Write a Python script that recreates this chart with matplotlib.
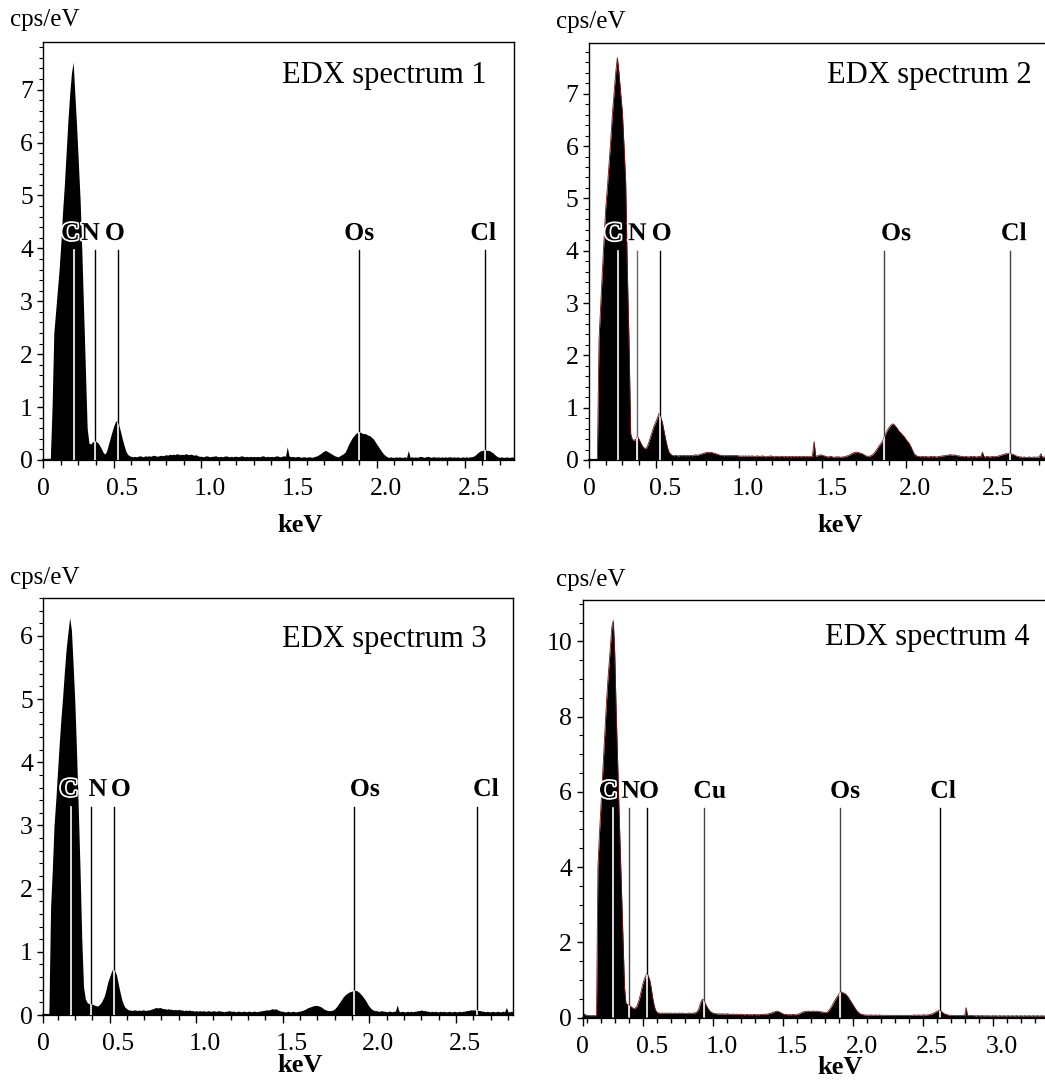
import numpy as np
import matplotlib
matplotlib.use("Agg")
import matplotlib.pyplot as plt
import matplotlib.patheffects as pe
from matplotlib.ticker import MultipleLocator, FixedLocator, FixedFormatter
from matplotlib.transforms import ScaledTranslation

plt.rcParams["font.family"] = ["Liberation Serif", "DejaVu Serif"]

# ---------------------------------------------------------------- data
# Spectra sampled every 10 eV, counts in cps/eV
STEP = 0.01

spec1_start = 0.10
spec1_counts = [
    0.03, 0.03, 0.03, 0.03, 0.03, 1.00, 2.40, 2.80, 3.20, 3.60,   # 0.10
    4.10, 4.70, 5.20, 5.80, 6.40, 6.90, 7.30, 7.52, 6.90, 6.30,   # 0.20
    5.60, 4.90, 3.90, 2.80, 1.70, 0.60, 0.32, 0.30, 0.34, 0.36,   # 0.30
    0.35, 0.33, 0.28, 0.22, 0.15, 0.11, 0.16, 0.28, 0.40, 0.52,   # 0.40
    0.63, 0.72, 0.75, 0.66, 0.54, 0.40, 0.28, 0.17, 0.11, 0.08,   # 0.50
    0.07, 0.06, 0.07, 0.06, 0.07, 0.08, 0.07, 0.06, 0.08, 0.07,   # 0.60
    0.08, 0.07, 0.08, 0.09, 0.08, 0.07, 0.08, 0.09, 0.08, 0.09,   # 0.70
    0.10, 0.09, 0.11, 0.10, 0.11, 0.10, 0.12, 0.11, 0.10, 0.11,   # 0.80
    0.10, 0.12, 0.11, 0.10, 0.11, 0.10, 0.09, 0.10, 0.08, 0.07,   # 0.90
    0.07, 0.06, 0.07, 0.08, 0.07, 0.06, 0.07, 0.07, 0.08, 0.07,   # 1.00
    0.06, 0.07, 0.06, 0.07, 0.08, 0.07, 0.06, 0.07, 0.06, 0.07,   # 1.10
    0.07, 0.06, 0.07, 0.08, 0.07, 0.06, 0.07, 0.06, 0.07, 0.06,   # 1.20
    0.07, 0.06, 0.07, 0.06, 0.07, 0.08, 0.07, 0.06, 0.07, 0.06,   # 1.30
    0.07, 0.06, 0.07, 0.08, 0.07, 0.06, 0.07, 0.08, 0.07, 0.25,   # 1.40
    0.08, 0.06, 0.07, 0.06, 0.06, 0.07, 0.06, 0.05, 0.06, 0.06,   # 1.50
    0.05, 0.06, 0.06, 0.05, 0.06, 0.07, 0.08, 0.10, 0.12, 0.15,   # 1.60
    0.17, 0.18, 0.16, 0.14, 0.12, 0.10, 0.08, 0.07, 0.06, 0.08,   # 1.70
    0.10, 0.12, 0.15, 0.22, 0.30, 0.36, 0.42, 0.46, 0.50, 0.52,   # 1.80
    0.53, 0.52, 0.50, 0.50, 0.49, 0.47, 0.46, 0.43, 0.40, 0.35,   # 1.90
    0.30, 0.25, 0.20, 0.15, 0.11, 0.08, 0.06, 0.05, 0.06, 0.05,   # 2.00
    0.05, 0.06, 0.05, 0.06, 0.05, 0.05, 0.06, 0.05, 0.18, 0.05,   # 2.10
    0.06, 0.05, 0.06, 0.05, 0.06, 0.07, 0.06, 0.05, 0.06, 0.07,   # 2.20
    0.06, 0.05, 0.06, 0.06, 0.05, 0.06, 0.05, 0.06, 0.05, 0.06,   # 2.30
    0.05, 0.06, 0.06, 0.05, 0.06, 0.05, 0.06, 0.05, 0.05, 0.06,   # 2.40
    0.05, 0.06, 0.05, 0.06, 0.06, 0.07, 0.09, 0.12, 0.15, 0.17,   # 2.50
    0.18, 0.19, 0.19, 0.18, 0.18, 0.16, 0.14, 0.11, 0.08, 0.06,   # 2.60
    0.05, 0.06, 0.05, 0.05, 0.06, 0.05, 0.05, 0.06, 0.05,         # 2.70
]

spec2_start = 0.10
spec2_counts = [
    0.01, 0.01, 0.01, 0.01, 0.01, 0.01, 2.30, 2.95, 3.60, 4.20,   # 0.10
    4.80, 5.20, 5.65, 6.10, 6.60, 7.00, 7.40, 7.69, 7.39, 7.00,   # 0.20
    6.65, 6.00, 5.30, 3.60, 2.25, 0.50, 0.39, 0.38, 0.39, 0.45,   # 0.30
    0.40, 0.33, 0.27, 0.23, 0.22, 0.26, 0.35, 0.45, 0.55, 0.65,   # 0.40
    0.72, 0.80, 0.89, 0.82, 0.72, 0.55, 0.39, 0.25, 0.15, 0.11,   # 0.50
    0.09, 0.08, 0.09, 0.08, 0.08, 0.09, 0.08, 0.09, 0.08, 0.09,   # 0.60
    0.08, 0.09, 0.08, 0.09, 0.10, 0.09, 0.10, 0.11, 0.12, 0.13,   # 0.70
    0.14, 0.15, 0.14, 0.15, 0.14, 0.13, 0.12, 0.11, 0.10, 0.09,   # 0.80
    0.09, 0.08, 0.09, 0.08, 0.09, 0.08, 0.09, 0.08, 0.09, 0.08,   # 0.90
    0.08, 0.07, 0.08, 0.07, 0.08, 0.07, 0.08, 0.07, 0.08, 0.07,   # 1.00
    0.07, 0.08, 0.07, 0.07, 0.08, 0.07, 0.06, 0.07, 0.07, 0.08,   # 1.10
    0.07, 0.06, 0.07, 0.07, 0.06, 0.07, 0.07, 0.06, 0.07, 0.06,   # 1.20
    0.07, 0.06, 0.07, 0.06, 0.07, 0.06, 0.07, 0.06, 0.07, 0.07,   # 1.30
    0.06, 0.07, 0.06, 0.07, 0.07, 0.35, 0.07, 0.08, 0.09, 0.10,   # 1.40
    0.09, 0.08, 0.07, 0.06, 0.06, 0.07, 0.06, 0.05, 0.06, 0.06,   # 1.50
    0.06, 0.05, 0.06, 0.06, 0.07, 0.08, 0.09, 0.11, 0.13, 0.14,   # 1.60
    0.15, 0.15, 0.14, 0.13, 0.12, 0.10, 0.08, 0.07, 0.07, 0.08,   # 1.70
    0.10, 0.13, 0.17, 0.22, 0.27, 0.31, 0.36, 0.43, 0.50, 0.57,   # 1.80
    0.62, 0.66, 0.69, 0.68, 0.64, 0.60, 0.55, 0.52, 0.48, 0.45,   # 1.90
    0.40, 0.36, 0.32, 0.26, 0.19, 0.12, 0.09, 0.07, 0.07, 0.06,   # 2.00
    0.07, 0.06, 0.07, 0.06, 0.06, 0.07, 0.06, 0.07, 0.06, 0.06,   # 2.10
    0.07, 0.07, 0.08, 0.08, 0.09, 0.09, 0.10, 0.10, 0.09, 0.10,   # 2.20
    0.09, 0.08, 0.08, 0.07, 0.07, 0.06, 0.07, 0.06, 0.06, 0.07,   # 2.30
    0.06, 0.07, 0.06, 0.06, 0.07, 0.06, 0.15, 0.06, 0.06, 0.07,   # 2.40
    0.06, 0.06, 0.07, 0.06, 0.07, 0.07, 0.08, 0.09, 0.10, 0.11,   # 2.50
    0.12, 0.12, 0.13, 0.12, 0.11, 0.10, 0.08, 0.07, 0.06, 0.06,   # 2.60
    0.05, 0.06, 0.05, 0.05, 0.06, 0.05, 0.05, 0.06, 0.05, 0.06,   # 2.70
    0.05, 0.12, 0.05, 0.06, 0.05, 0.05, 0.06, 0.05, 0.05, 0.06,   # 2.80
    0.05,                                                         # 2.90
]

spec3_start = 0.12
spec3_counts = [
    0.01, 0.01, 0.01, 0.01, 1.70, 2.30, 3.00, 3.40, 3.85, 4.30,   # 0.12
    4.70, 5.05, 5.45, 5.80, 6.05, 6.29, 6.10, 5.55, 4.95, 4.15,   # 0.22
    3.25, 2.30, 1.20, 0.45, 0.26, 0.20, 0.18, 0.17, 0.17, 0.16,   # 0.32
    0.15, 0.14, 0.16, 0.19, 0.24, 0.30, 0.40, 0.52, 0.60, 0.68,   # 0.42
    0.74, 0.70, 0.64, 0.50, 0.37, 0.25, 0.17, 0.12, 0.10, 0.08,   # 0.52
    0.08, 0.07, 0.08, 0.08, 0.07, 0.08, 0.07, 0.08, 0.08, 0.07,   # 0.62
    0.08, 0.08, 0.09, 0.10, 0.11, 0.12, 0.11, 0.12, 0.11, 0.10,   # 0.72
    0.10, 0.09, 0.10, 0.09, 0.09, 0.08, 0.09, 0.08, 0.09, 0.08,   # 0.82
    0.08, 0.07, 0.08, 0.07, 0.08, 0.07, 0.07, 0.06, 0.07, 0.06,   # 0.92
    0.07, 0.06, 0.07, 0.06, 0.06, 0.07, 0.06, 0.06, 0.07, 0.06,   # 1.02
    0.06, 0.07, 0.06, 0.06, 0.05, 0.06, 0.06, 0.07, 0.06, 0.06,   # 1.12
    0.06, 0.05, 0.06, 0.06, 0.05, 0.06, 0.06, 0.05, 0.06, 0.06,   # 1.22
    0.05, 0.06, 0.06, 0.05, 0.06, 0.06, 0.07, 0.07, 0.08, 0.08,   # 1.32
    0.08, 0.09, 0.10, 0.09, 0.10, 0.08, 0.07, 0.06, 0.06, 0.05,   # 1.42
    0.05, 0.06, 0.05, 0.05, 0.06, 0.05, 0.05, 0.06, 0.06, 0.07,   # 1.52
    0.08, 0.09, 0.11, 0.12, 0.13, 0.14, 0.15, 0.15, 0.15, 0.14,   # 1.62
    0.13, 0.11, 0.09, 0.08, 0.07, 0.07, 0.07, 0.08, 0.10, 0.13,   # 1.72
    0.17, 0.21, 0.25, 0.29, 0.32, 0.34, 0.36, 0.37, 0.38, 0.39,   # 1.82
    0.39, 0.38, 0.36, 0.33, 0.30, 0.26, 0.22, 0.17, 0.13, 0.10,   # 1.92
    0.08, 0.07, 0.07, 0.06, 0.06, 0.07, 0.06, 0.06, 0.05, 0.06,   # 2.02
    0.06, 0.05, 0.06, 0.06, 0.16, 0.06, 0.05, 0.06, 0.05, 0.05,   # 2.12
    0.06, 0.05, 0.06, 0.05, 0.06, 0.06, 0.07, 0.07, 0.08, 0.07,   # 2.22
    0.07, 0.06, 0.06, 0.05, 0.06, 0.05, 0.06, 0.05, 0.05, 0.06,   # 2.32
    0.05, 0.06, 0.05, 0.05, 0.06, 0.05, 0.05, 0.06, 0.05, 0.05,   # 2.42
    0.06, 0.05, 0.06, 0.06, 0.07, 0.07, 0.08, 0.08, 0.08, 0.08,   # 2.52
    0.08, 0.07, 0.07, 0.06, 0.06, 0.05, 0.06, 0.05, 0.05, 0.06,   # 2.62
    0.05, 0.05, 0.06, 0.05, 0.05, 0.06, 0.05, 0.12, 0.05, 0.05,   # 2.72
    0.06, 0.05,                                                   # 2.82
]

spec4_start = 0.07
spec4_counts = [
    0.08, 0.10, 0.07, 0.06, 0.05, 0.05, 0.05, 0.05, 0.05, 0.05,   # 0.07
    0.05, 4.00, 4.80, 5.50, 6.20, 6.90, 7.60, 8.30, 8.90, 9.40,   # 0.17
    9.90, 10.40, 10.55, 9.70, 8.20, 6.90, 5.60, 4.40, 3.20, 2.00, # 0.27
    0.80, 0.38, 0.35, 0.33, 0.31, 0.28, 0.25, 0.24, 0.26, 0.31,   # 0.37
    0.42, 0.55, 0.72, 0.88, 1.00, 1.10, 1.17, 1.10, 1.00, 0.80,   # 0.47
    0.55, 0.35, 0.21, 0.15, 0.12, 0.12, 0.11, 0.12, 0.11, 0.12,   # 0.57
    0.11, 0.12, 0.11, 0.12, 0.11, 0.11, 0.12, 0.11, 0.11, 0.12,   # 0.67
    0.11, 0.12, 0.11, 0.11, 0.10, 0.11, 0.12, 0.11, 0.11, 0.12,   # 0.77
    0.12, 0.13, 0.16, 0.22, 0.35, 0.45, 0.49, 0.42, 0.35, 0.28,   # 0.87
    0.22, 0.17, 0.14, 0.12, 0.11, 0.10, 0.10, 0.09, 0.10, 0.09,   # 0.97
    0.10, 0.09, 0.09, 0.10, 0.09, 0.09, 0.08, 0.09, 0.09, 0.08,   # 1.07
    0.09, 0.08, 0.08, 0.09, 0.08, 0.08, 0.07, 0.08, 0.08, 0.07,   # 1.17
    0.08, 0.07, 0.08, 0.08, 0.07, 0.08, 0.07, 0.08, 0.08, 0.09,   # 1.27
    0.08, 0.09, 0.09, 0.10, 0.11, 0.12, 0.14, 0.15, 0.16, 0.17,   # 1.37
    0.16, 0.14, 0.12, 0.10, 0.09, 0.08, 0.08, 0.07, 0.08, 0.07,   # 1.47
    0.08, 0.08, 0.07, 0.08, 0.09, 0.10, 0.12, 0.14, 0.15, 0.16,   # 1.57
    0.16, 0.17, 0.17, 0.16, 0.17, 0.17, 0.16, 0.17, 0.16, 0.16,   # 1.67
    0.15, 0.15, 0.14, 0.13, 0.13, 0.15, 0.19, 0.24, 0.30, 0.37,   # 1.77
    0.44, 0.50, 0.56, 0.62, 0.66, 0.68, 0.66, 0.64, 0.62, 0.58,   # 1.87
    0.53, 0.47, 0.41, 0.35, 0.29, 0.23, 0.18, 0.14, 0.11, 0.09,   # 1.97
    0.08, 0.07, 0.07, 0.06, 0.07, 0.06, 0.07, 0.06, 0.06, 0.07,   # 2.07
    0.06, 0.06, 0.07, 0.06, 0.06, 0.05, 0.06, 0.06, 0.05, 0.06,   # 2.17
    0.06, 0.05, 0.06, 0.05, 0.06, 0.06, 0.05, 0.06, 0.05, 0.06,   # 2.27
    0.05, 0.06, 0.06, 0.05, 0.06, 0.05, 0.06, 0.07, 0.06, 0.06,   # 2.37
    0.07, 0.06, 0.06, 0.07, 0.07, 0.06, 0.07, 0.07, 0.08, 0.09,   # 2.47
    0.10, 0.12, 0.14, 0.16, 0.18, 0.19, 0.17, 0.14, 0.11, 0.09,   # 2.57
    0.08, 0.07, 0.06, 0.06, 0.05, 0.06, 0.05, 0.05, 0.06, 0.05,   # 2.67
    0.05, 0.06, 0.05, 0.05, 0.26, 0.05, 0.05, 0.06, 0.05, 0.05,   # 2.77
    0.05, 0.04, 0.05, 0.05, 0.04, 0.05, 0.05, 0.04, 0.05, 0.04,   # 2.87
    0.05, 0.04, 0.04, 0.05, 0.04, 0.05, 0.04, 0.04, 0.05, 0.04,   # 2.97
    0.04, 0.05, 0.04, 0.04, 0.05, 0.04, 0.04, 0.05, 0.04, 0.04,   # 3.07
    0.05, 0.04, 0.04, 0.05, 0.04, 0.04, 0.05, 0.04, 0.04, 0.05,   # 3.17
    0.04, 0.04, 0.05, 0.04, 0.04, 0.05, 0.04, 0.04, 0.05, 0.04,   # 3.27
    0.04, 0.05, 0.04, 0.04, 0.05, 0.04, 0.04, 0.05, 0.04,         # 3.37
]

# Element marker lines: symbol, energy (keV)
elements1 = ["C", "N", "O", "Os", "Cl"]
energies1 = [0.277, 0.392, 0.525, 1.90, 2.618]
elements2 = ["C", "N", "O", "Os", "Cl"]
energies2 = [0.276, 0.390, 0.524, 1.87, 2.624]
elements3 = ["C", "N", "O", "Os", "Cl"]
energies3 = [0.277, 0.392, 0.525, 1.91, 2.62]
elements4 = ["C", "N", "O", "Cu", "Os", "Cl"]
energies4 = [0.288, 0.400, 0.531, 0.936, 1.91, 2.624]

titles = ["EDX spectrum 1", "EDX spectrum 2", "EDX spectrum 3", "EDX spectrum 4"]

# ---------------------------------------------------------------- layout
W, H = 1045, 1080
fig = plt.figure(figsize=(W / 100, H / 100), dpi=100)


def add_axes_px(left, top, bottom, xlim, px_per_kev):
    right = left + (xlim[1] - xlim[0]) * px_per_kev
    ax = fig.add_axes([left / W, 1 - bottom / H, (right - left) / W, (bottom - top) / H])
    ax.set_xlim(*xlim)
    return ax


panels = [
    dict(start=spec1_start, counts=spec1_counts, els=elements1, ens=energies1,
         left=43.3, top=42, bottom=460, xlim=(0.10, 2.78), ppk=175.5,
         ylim=7.9, ymaj=1, ymin=0.2, xmaj=[0.5, 1.0, 1.5, 2.0, 2.5],
         marker_top=3.96, label_dx=[-4, -4, -3, 0, -2], edge=None,
         line_colors=["black"] * 5,
         title_px=(487, 75), ylab_px=(10, 20), xlab_px=(300, 525)),
    dict(start=spec2_start, counts=spec2_counts, els=elements2, ens=energies2,
         left=589, top=42.5, bottom=460, xlim=(0.10, 2.90), ppk=166.7,
         ylim=7.98, ymaj=1, ymin=0.2, xmaj=[0.5, 1.0, 1.5, 2.0, 2.5],
         marker_top=4.0, label_dx=[-5, 0, 2, 12, 4], edge="#7a1515",
         line_colors=["black", "#666666", "black", "#444444", "#444444"],
         title_px=(1032, 75), ylab_px=(556, 22), xlab_px=(840, 525)),
    dict(start=spec3_start, counts=spec3_counts, els=elements3, ens=energies3,
         left=43.3, top=598, bottom=1015, xlim=(0.118, 2.83), ppk=173.3,
         ylim=6.6, ymaj=1, ymin=0.2, xmaj=[0.5, 1.0, 1.5, 2.0, 2.5],
         marker_top=3.3, label_dx=[-2, 7, 7, 11, 9], edge=None,
         line_colors=["black"] * 5,
         title_px=(487, 639), ylab_px=(10, 578), xlab_px=(300, 1066)),
    dict(start=spec4_start, counts=spec4_counts, els=elements4, ens=energies4,
         left=582.5, top=600, bottom=1017.5, xlim=(0.07, 3.45), ppk=140.0,
         ylim=11.1, ymaj=2, ymin=0.5, xmaj=[0.5, 1.0, 1.5, 2.0, 2.5, 3.0],
         marker_top=5.56, label_dx=[-5, 2, 2, 6, 5, 3], edge="#7a1515",
         line_colors=["black", "#444444", "black", "#444444", "#444444", "black"],
         title_px=(1030, 638), ylab_px=(556, 580), xlab_px=(840, 1068)),
]

TICK_FS = 18.5
halo = [pe.withStroke(linewidth=2.5, foreground="white")]
for p, title in zip(panels, titles):
    ax = add_axes_px(p["left"], p["top"], p["bottom"], p["xlim"], p["ppk"])
    counts = np.asarray(p["counts"])
    energy = p["start"] + STEP * np.arange(len(counts))

    ax.set_ylim(0, p["ylim"])
    fill = ax.fill_between(energy, counts, 0, color="black", lw=0, zorder=2)
    if p["edge"]:
        ax.plot(energy, counts, color=p["edge"], lw=0.6, zorder=2.5)
    clip_path = fill.get_paths()[0]

    # marker lines: dark outside the spectrum, white where they cross it
    for el, en, dx, lc in zip(p["els"], p["ens"], p["label_dx"], p["line_colors"]):
        ax.plot([en, en], [0, p["marker_top"]], color=lc, lw=1.0, zorder=3)
        wl, = ax.plot([en, en], [0, p["marker_top"]], color="white", lw=1.2, zorder=3.5)
        wl.set_clip_path(clip_path, ax.transData)
        ax.annotate(el, xy=(en, p["marker_top"]), xytext=(dx * 0.72, 4),
                    textcoords="offset points", ha="center", va="bottom",
                    fontsize=18.5, fontweight="bold", zorder=4, path_effects=halo)

    # frame
    for side in ("left", "top", "right"):
        ax.spines[side].set_linewidth(1.0)
    ax.spines["bottom"].set_linewidth(1.6)

    # x ticks: first label sits at the left edge of the scale
    xmin = p["xlim"][0]
    ax.xaxis.set_major_locator(FixedLocator([xmin] + p["xmaj"]))
    ax.xaxis.set_major_formatter(FixedFormatter(["0"] + [f"{v:.1f}" for v in p["xmaj"]]))
    minors = [round(v, 2) for v in np.arange(0.1, p["xlim"][1] + 0.001, 0.1)
              if v > xmin + 0.02 and abs(v * 2 - round(v * 2)) > 1e-6]
    ax.xaxis.set_minor_locator(FixedLocator(minors))
    ax.yaxis.set_major_locator(MultipleLocator(p["ymaj"]))
    ax.yaxis.set_minor_locator(MultipleLocator(p["ymin"]))

    ax.tick_params(axis="x", which="major", direction="out", length=6, width=1.0,
                   labelsize=TICK_FS, pad=7)
    ax.tick_params(axis="x", which="minor", direction="out", length=3.6, width=1.0)
    ax.tick_params(axis="y", which="major", direction="out", length=4.5, width=1.0,
                   labelsize=TICK_FS, pad=3)
    ax.tick_params(axis="y", which="minor", direction="out", length=3.0, width=0.8)
    ax.tick_params(top=False, right=False, which="both")

    shift = ScaledTranslation(9 / 100, 0, fig.dpi_scale_trans)
    for lab in ax.get_xticklabels()[1:]:
        lab.set_transform(lab.get_transform() + shift)

    # texts
    tx, ty = p["title_px"]
    fig.text(tx / W, 1 - ty / H, title, ha="right", va="center", fontsize=22)
    lx, ly = p["ylab_px"]
    fig.text(lx / W, 1 - ly / H, "cps/eV", ha="left", va="center", fontsize=18)
    kx, ky = p["xlab_px"]
    fig.text(kx / W, 1 - ky / H, "keV", ha="center", va="center", fontsize=19,
             fontweight="bold")

fig.savefig("out.png", dpi=100, facecolor="white")
